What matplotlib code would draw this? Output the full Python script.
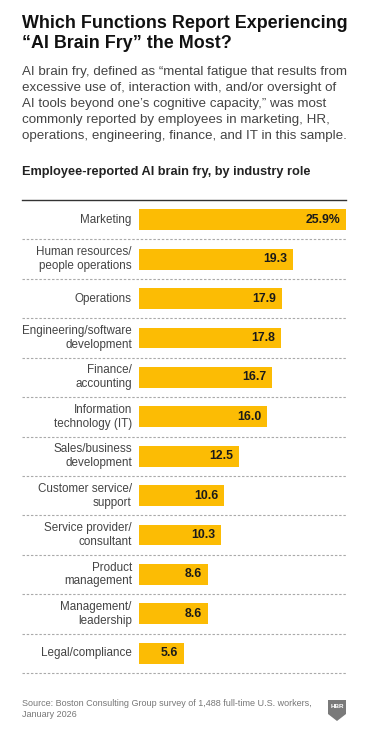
import matplotlib.pyplot as plt
from matplotlib.patches import Polygon

# Data
roles = [
    "Marketing",
    "Human resources/\npeople operations",
    "Operations",
    "Engineering/software\ndevelopment",
    "Finance/\naccounting",
    "Information\ntechnology (IT)",
    "Sales/business\ndevelopment",
    "Customer service/\nsupport",
    "Service provider/\nconsultant",
    "Product\nmanagement",
    "Management/\nleadership",
    "Legal/compliance",
]
values = [25.9, 19.3, 17.9, 17.8, 16.7, 16.0, 12.5, 10.6, 10.3, 8.6, 8.6, 5.6]
value_labels = ["25.9%"] + [f"{v:.1f}" for v in values[1:]]

title_lines = ["Which Functions Report Experiencing", "\u201cAI Brain Fry\u201d the Most?"]
subtitle_lines = [
    "AI brain fry, defined as \u201cmental fatigue that results from",
    "excessive use of, interaction with, and/or oversight of",
    "AI tools beyond one\u2019s cognitive capacity,\u201d was most",
    "commonly reported by employees in marketing, HR,",
    "operations, engineering, finance, and IT in this sample.",
]
chart_title = "Employee-reported AI brain fry, by industry role"
source_lines = [
    "Source: Boston Consulting Group survey of 1,488 full-time U.S. workers,",
    "January 2026",
]

BAR = "#FCBC04"
FONT = ["Liberation Sans Narrow", "Liberation Sans", "DejaVu Sans"]
plt.rcParams["font.family"] = FONT

W, H = 367, 731
fig = plt.figure(figsize=(W / 100, H / 100), dpi=100)
fig.patch.set_facecolor("white")

# pixel overlay for text
pa = fig.add_axes([0, 0, 1, 1])
pa.set_xlim(0, W)
pa.set_ylim(H, 0)
pa.axis("off")

for i, line in enumerate(title_lines):
    pa.text(22, 28 + i * 20.5, line, fontsize=12.9, fontweight="bold",
            color="#111111", va="baseline", ha="left")
for i, line in enumerate(subtitle_lines):
    pa.text(22, 75 + i * 16.1, line, fontsize=9.6, color="#444444",
            va="baseline", ha="left")
pa.text(22, 175, chart_title, fontsize=9.2, fontweight="bold",
        color="#222222", va="baseline", ha="left")
for i, line in enumerate(source_lines):
    pa.text(22, 706.5 + i * 10.8, line, fontsize=6.5, color="#777777",
            va="baseline", ha="left")

# HBR shield logo
shield = Polygon([[328, 700], [346, 700], [346, 714], [337, 721], [328, 714]],
                 closed=True, facecolor="#7a7a7a", edgecolor="none")
pa.add_patch(shield)
pa.text(337, 706, "HBR", fontsize=4.6, fontweight="bold", color="white",
        ha="center", va="center")

# bar chart axes
left, right, top, bottom = 139, 345.7, 200, 673
ax = fig.add_axes([left / W, 1 - bottom / H, (right - left) / W, (bottom - top) / H])
ax.set_xlim(0, 25.9)
ax.set_ylim(len(roles) - 0.5, -0.5)
ax.axis("off")

y = list(range(len(roles)))
ax.barh(y, values, height=0.53, color=BAR, zorder=2)

ext = (left - 22) / (right - left)
ax.axhline(-0.5, xmin=-ext, xmax=1, color="#333333", lw=1.0, clip_on=False)
for k in range(len(roles)):
    ax.axhline(k + 0.5, xmin=-ext, xmax=1, color="#aaaaaa", lw=0.8,
               ls=(0, (2.2, 1.6)), clip_on=False)

for yi, role, v, lab in zip(y, roles, values, value_labels):
    ax.text(-0.9, yi, role, ha="right", va="center", fontsize=8.4,
            color="#444444", linespacing=1.2)
    ax.text(v - 0.7, yi, lab, ha="right", va="center", fontsize=8.8,
            fontweight="bold", color="#1a1a1a")

fig.savefig("out.png", dpi=100, facecolor="white")
